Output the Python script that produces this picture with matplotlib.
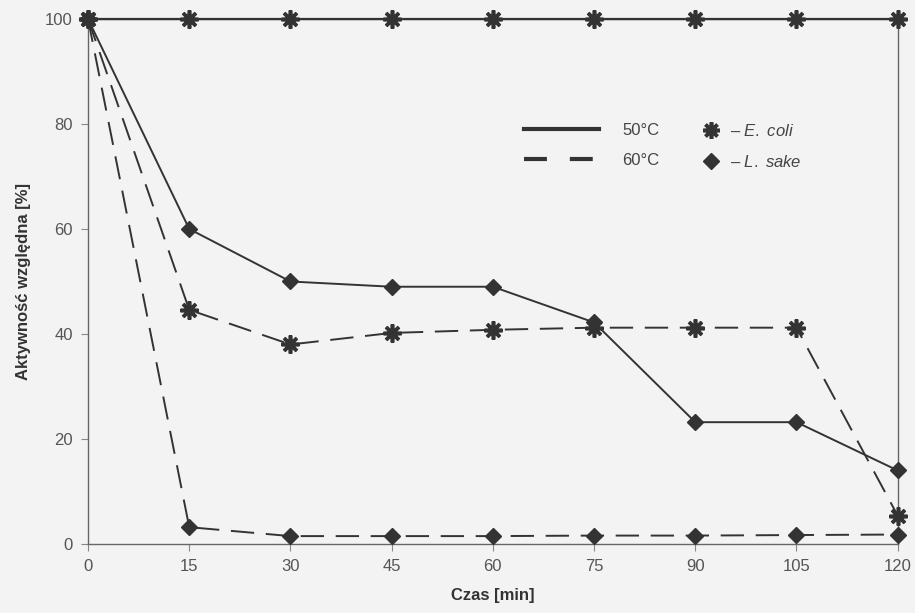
import numpy as np
import matplotlib.pyplot as plt
from matplotlib.lines import Line2D

plt.rcParams['font.family'] = ['Liberation Sans', 'DejaVu Sans']
plt.rcParams['mathtext.fontset'] = 'custom'
plt.rcParams['mathtext.it'] = 'Liberation Sans:italic'
plt.rcParams['mathtext.rm'] = 'Liberation Sans'

czas = [0, 15, 30, 45, 60, 75, 90, 105, 120]
ecoli_50 = [100, 100, 100, 100, 100, 100, 100, 100, 100]
lsake_50 = [100, 60, 50, 49, 49, 42.2, 23.2, 23.2, 14]
ecoli_60 = [100, 44.6, 38, 40.2, 40.8, 41.2, 41.2, 41.2, 5.4]
lsake_60 = [100, 3.2, 1.5, 1.5, 1.5, 1.6, 1.6, 1.7, 1.8]

bg = '#f3f3f3'
ink = '#333333'
star = (8, 2, 0)

fig = plt.figure(figsize=(9.15, 6.13), dpi=100, facecolor=bg)
ax = fig.add_axes([0.0962, 0.1126, 0.8849, 0.8564], facecolor=bg)

dash = (0, (12, 6))
ax.plot(czas, ecoli_50, color=ink, lw=1.6, marker=star, ms=13, mew=2.6, clip_on=False, zorder=3)
ax.plot(czas, lsake_50, color=ink, lw=1.4, marker='D', ms=8, clip_on=False, zorder=3)
ax.plot(czas, ecoli_60, color=ink, lw=1.4, ls=dash, marker=star, ms=13, mew=2.6, clip_on=False, zorder=3)
ax.plot(czas, lsake_60, color=ink, lw=1.4, ls=dash, marker='D', ms=8, clip_on=False, zorder=3)

ax.set_xlim(0, 120)
ax.set_ylim(0, 100)
ax.set_xticks(czas)
ax.set_yticks([0, 20, 40, 60, 80, 100])
ax.tick_params(direction='out', length=5, color='#888888', labelcolor='#555555', labelsize=12, pad=6)
for s in ax.spines.values():
    s.set_color('#666666')
    s.set_linewidth(1)

ax.set_xlabel('Czas [min]', fontsize=12, fontweight='bold', color='#333333', labelpad=10)
ax.set_ylabel('Aktywność względna [%]', fontsize=12, fontweight='bold', color='#333333', labelpad=10)

h1 = [Line2D([], [], color=ink, lw=3), Line2D([], [], color=ink, lw=3, ls=(0, (5.5, 5.5)))]
leg1 = ax.legend(h1, ['50°C', '60°C'], loc='upper left', bbox_to_anchor=(0.52, 0.83),
                 frameon=False, handlelength=4.5, handletextpad=1.4, labelspacing=0.9,
                 fontsize=12, labelcolor='#444444')
ax.add_artist(leg1)
h2 = [Line2D([], [], color=ink, ls='none', marker=star, ms=12, mew=2.6),
      Line2D([], [], color=ink, ls='none', marker='D', ms=8)]
ax.legend(h2, ['– $\\it{E.\\ coli}$', '– $\\it{L.\\ sake}$'], loc='upper left',
          bbox_to_anchor=(0.735, 0.83), frameon=False, handlelength=1.5, handletextpad=0.4,
          labelspacing=0.9, fontsize=12, labelcolor='#444444')

fig.savefig('out.png', dpi=100, facecolor=bg)
